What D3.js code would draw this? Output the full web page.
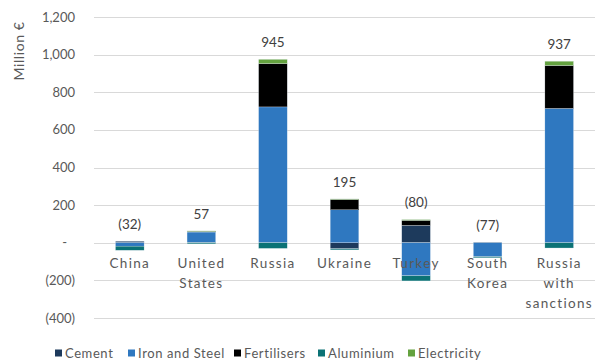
<!DOCTYPE html>
<html>
<head>
<meta charset="utf-8">
<script src="https://cdn.jsdelivr.net/npm/d3@7"></script>
<style>
  html, body { margin: 0; padding: 0; background: #fff; }
  svg { display: block; }
  text { font-family: Lato, "Open Sans", sans-serif; fill: #595959; }
</style>
</head>
<body>
<svg id="chart" width="601" height="362"></svg>
<script>
// Trade partners and net impact per sector (million €)
const categories = ["China", "United States", "Russia", "Ukraine", "Turkey", "South Korea", "Russia with sanctions"];
const categoryLines = [["China"], ["United", "States"], ["Russia"], ["Ukraine"], ["Turkey"], ["South", "Korea"], ["Russia", "with", "sanctions"]];
const sectors = ["Cement", "Iron and Steel", "Fertilisers", "Aluminium", "Electricity"];
const cement      = [8, 2, 0, -32, 92, 3, 0];
const ironSteel   = [-18, 55, 722, 175, -176, -74, 714];
const fertilisers = [0, 3, 230, 55, 27, 0, 228];
const aluminium   = [-22, -6, -30, -6, -27, -6, -28];
const electricity = [0, 3, 23, 3, 4, 0, 23];
const totals      = [-32, 57, 945, 195, -80, -77, 937];
const yTicks      = [-400, -200, 0, 200, 400, 600, 800, 1000, 1200];
const colors      = ["#1d3a5c", "#2f78c0", "#000000", "#0b7275", "#64a23f"];

const seriesValues = [cement, ironSteel, fertilisers, aluminium, electricity];
const rows = categories.map((c, i) => {
  const r = { category: c };
  sectors.forEach((s, j) => { r[s] = seriesValues[j][i]; });
  return r;
});

const svg = d3.select("#chart");
const margin = { left: 94, right: 6, top: 17, bottom: 44 };
const W = 601, H = 362;

const x = d3.scaleBand().domain(categories).range([margin.left, W - margin.right]).paddingInner(0.6).paddingOuter(0.3);
const y = d3.scaleLinear().domain([-400, 1200]).range([H - margin.bottom, margin.top]);

// gridlines
svg.append("g").selectAll("line").data(yTicks).join("line")
  .attr("x1", margin.left).attr("x2", W - margin.right)
  .attr("y1", d => Math.round(y(d)) + 0.5).attr("y2", d => Math.round(y(d)) + 0.5)
  .attr("stroke", "#d9d9d9").attr("stroke-width", 1);

// y tick labels
const fmt = d => d === 0 ? "-" : d < 0 ? "(" + d3.format(",")(-d) + ")" : d3.format(",")(d);
svg.append("g").selectAll("text").data(yTicks).join("text")
  .attr("x", d => d === 0 ? 67 : 75).attr("y", d => y(d)).attr("dy", "0.35em")
  .attr("text-anchor", "end").attr("font-size", 13).text(fmt);

// axis title
svg.append("text").attr("transform", "translate(24,51) rotate(-90)")
  .attr("text-anchor", "middle").attr("font-size", 14).attr("letter-spacing", 0.6).text("Million €");

// stacked bars with positive and negative parts split
const stack = d3.stack().keys(sectors).offset(d3.stackOffsetDiverging);
const layers = stack(rows);
svg.append("g").selectAll("g").data(layers).join("g")
  .attr("fill", (d, i) => colors[i])
  .selectAll("rect").data(d => d).join("rect")
  .attr("x", d => x(d.data.category))
  .attr("width", x.bandwidth())
  .attr("y", d => y(Math.max(d[0], d[1])))
  .attr("height", d => Math.abs(y(d[0]) - y(d[1])))
  .attr("stroke", "#e8eef4").attr("stroke-width", 0.3);

// total labels above the positive stack
const posTop = categories.map((c, i) => d3.sum(seriesValues, s => Math.max(0, s[i])));
svg.append("g").selectAll("text").data(totals).join("text")
  .attr("x", (d, i) => x(categories[i]) + x.bandwidth() / 2)
  .attr("y", (d, i) => y(posTop[i]) - 17).attr("dy", "0.35em")
  .attr("text-anchor", "middle").attr("font-size", 13.5)
  .style("fill", "#404040")
  .text(d => d < 0 ? "(" + (-d) + ")" : d);

// category labels
const cat = svg.append("g").selectAll("text").data(categories).join("text")
  .attr("x", d => x(d) + x.bandwidth() / 2)
  .attr("y", 263).attr("dy", "0.35em")
  .attr("text-anchor", "middle").attr("font-size", 13.5).attr("letter-spacing", 1.3);
cat.selectAll("tspan").data((d, i) => categoryLines[i]).join("tspan")
  .attr("x", function () { return this.parentNode.getAttribute("x"); })
  .attr("dy", (d, j) => j === 0 ? "0.35em" : "1.5em")
  .text(d => d);

// legend
const legendX = [55, 128, 234, 318, 408];
const lg = svg.append("g").selectAll("g").data(sectors).join("g")
  .attr("transform", (d, i) => `translate(${legendX[i]},353)`);
lg.append("rect").attr("x", 0).attr("y", -3.5).attr("width", 7).attr("height", 7)
  .attr("fill", (d, i) => colors[i]);
lg.append("text").attr("x", 10).attr("dy", "0.35em").attr("font-size", 13)
  .attr("letter-spacing", 0.6).text(d => d);
</script>
</body>
</html>
